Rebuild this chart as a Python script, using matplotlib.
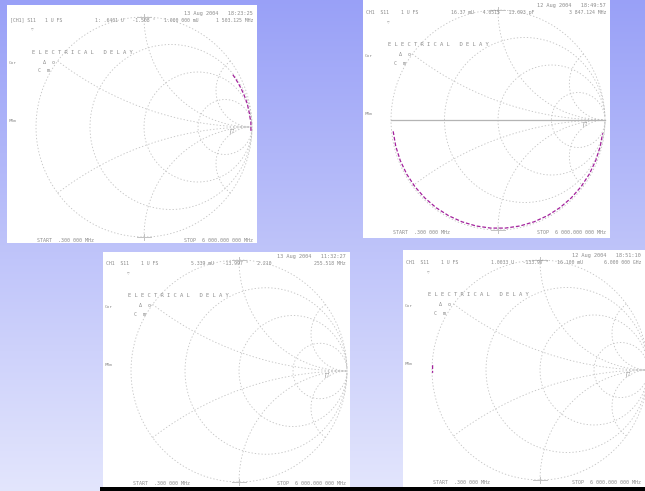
import numpy as np
import matplotlib
matplotlib.use("Agg")
import matplotlib.pyplot as plt
from matplotlib.patches import Rectangle

# smith chart graticule values
r_circles = [1/3, 1, 3]
x_arcs = [1/3, 1, 3, -1/3, -1, -3]

# traces: angle (deg) and |gamma|
p1_ang = [30, 27, 24, 21, 18, 15, 12, 9, 7, 5, 3, 1, 0, -1, -2, -3]
p1_mag = [0.95, 0.955, 0.96, 0.965, 0.97, 0.975, 0.98, 0.98, 0.985, 0.985,
          0.99, 0.99, 0.99, 0.99, 0.99, 0.985]
p2_ang = [-174, -166, -158, -150, -142, -134, -126, -118, -110, -102, -94,
          -86, -78, -70, -62, -54, -46, -38, -30, -22, -14, -7]
p2_mag = [0.985, 0.985, 0.985, 0.985, 0.985, 0.985, 0.985, 0.985, 0.985, 0.985, 0.985,
          0.985, 0.985, 0.985, 0.985, 0.985, 0.985, 0.985, 0.985, 0.985, 0.985, 0.985]
p4_ang = [177.5, 178.5, 179.5, 180.5, 181.5]
p4_mag = [0.995, 0.995, 0.995, 0.995, 0.995]

dates = ["13 Aug 2004   18:23:25", "12 Aug 2004   18:49:57",
         "13 Aug 2004   11:32:27", "12 Aug 2004   18:51:10"]
channels = ["[CH1] S11", "CH1  S11", "CH1  S11", "CH1  S11"]
markers = ["1: .6401 U   -1.508 \u00b0   1.000 000 mU",
           "16.37 mU   4.0515   13.093 pF",
           "5.339 mU   -13.997 \u00b0   2.210",
           "1.0033 U   -133.97 \u00b0   16.100 mU"]
mk_freq = ["1 503.125 MHz", "3 847.124 MHz", "255.518 MHz", "6.000 000 GHz"]
starts = ["START  .300 000 MHz"] * 4
stops = ["STOP  6 000.000 000 MHz"] * 4

# panel rects in pixels (left, top, right, bottom), circle centre and radii
panels = [
    dict(rect=(7, 5, 257, 243), c=(144, 127), R=(108, 110), trace=(p1_ang, p1_mag), axis=False),
    dict(rect=(363, -3, 610, 238), c=(498, 120), R=(107, 110), trace=(p2_ang, p2_mag), axis=True),
    dict(rect=(103, 252, 350, 487), c=(239, 371), R=(108, 111), trace=None, axis=False),
    dict(rect=(403, 250, 645, 487), c=(540, 370), R=(108, 110), trace=(p4_ang, p4_mag), axis=False),
]

FW, FH = 645, 491
fig = plt.figure(figsize=(6.45, 4.91), dpi=100)

# gradient background
bg = fig.add_axes([0, 0, 1, 1])
top = np.array([0.60, 0.63, 0.97])
bot = np.array([0.89, 0.90, 0.99])
t = np.linspace(0, 1, 256)[:, None, None]
grad = top * (1 - t) + bot * t
grad = np.repeat(grad, 2, axis=1)
bg.imshow(grad, aspect="auto", extent=[0, 1, 0, 1])
bg.set_xlim(0, 1)
bg.set_ylim(0, 1)
bg.axis("off")

grid_col = "#c2c2c2"
grid_ls = (0, (1.6, 2.4))
txt_col = "#8c8c8c"
trace_col = "#a3229c"
mono = "DejaVu Sans Mono"


def to_px(g, c, R):
    return c[0] + g.real * R[0], c[1] - g.imag * R[1]


for i, p in enumerate(panels):
    l, tp, r, b = p["rect"]
    ax = fig.add_axes([l / FW, 1 - b / FH, (r - l) / FW, (b - tp) / FH])
    ax.set_xlim(l, r)
    ax.set_ylim(b, tp)
    ax.set_facecolor("white")
    ax.set_xticks([])
    ax.set_yticks([])
    for s in ax.spines.values():
        s.set_visible(False)
    c, R = p["c"], p["R"]

    # outer circle
    th = np.linspace(0, 2 * np.pi, 400)
    gx, gy = to_px(np.exp(1j * th), c, R)
    ax.plot(gx, gy, color=grid_col, lw=0.6, ls=grid_ls)
    # resistance circles
    xs = np.concatenate([-np.logspace(2, -3, 200), np.logspace(-3, 2, 200)])
    for rv in r_circles:
        z = rv + 1j * xs
        gx, gy = to_px((z - 1) / (z + 1), c, R)
        ax.plot(gx, gy, color=grid_col, lw=0.6, ls=grid_ls)
    # reactance arcs
    rs = np.concatenate([[0], np.logspace(-3, 2.5, 300)])
    for xv in x_arcs:
        z = rs + 1j * xv
        gx, gy = to_px((z - 1) / (z + 1), c, R)
        ax.plot(gx, gy, color=grid_col, lw=0.6, ls=grid_ls)

    # reference ticks top and bottom
    for sgn in (1, -1):
        y0 = c[1] - sgn * R[1]
        ax.plot([c[0] - 7, c[0] + 7], [y0, y0], color=grid_col, lw=0.7)
        ax.plot([c[0], c[0]], [y0 - 3, y0 + 3], color=grid_col, lw=0.7)

    if p["axis"]:
        ax.plot([c[0] - R[0], c[0] + R[0]], [c[1], c[1]], color="#b4b4b4", lw=0.9)

    # marker symbol near the right edge
    ax.text(c[0] + 0.82 * R[0], c[1] + 0.02 * R[1], "\u25bd1", fontsize=3.5,
            color=txt_col, ha="center", va="center", rotation=90)

    if p["trace"] is not None:
        ang, mag = p["trace"]
        g = np.array(mag) * np.exp(1j * np.radians(ang))
        gx, gy = to_px(g, c, R)
        ax.plot(gx, gy, color=trace_col, lw=0.9, ls=(0, (3, 1.5)))

    # annotation text
    ox, oy = l, p["c"][1] - 122
    ax.text(r - 4, oy + 8, dates[i], fontsize=3.8, color=txt_col, ha="right",
            va="center", family=mono)
    ax.text(ox + 3, oy + 15, channels[i], fontsize=3.5, color=txt_col,
            va="center", family=mono)
    ax.text(ox + 38, oy + 15, "1 U FS", fontsize=3.5, color=txt_col,
            va="center", family=mono)
    ax.text(ox + 88, oy + 15, markers[i], fontsize=3.5, color=txt_col,
            va="center", family=mono)
    ax.text(r - 4, oy + 15, mk_freq[i], fontsize=3.5, color=txt_col,
            ha="right", va="center", family=mono)
    ax.text(ox + 24, oy + 25, "\u25bd", fontsize=3.2, color=txt_col,
            va="center", family=mono)
    ax.text(ox + 25, oy + 47, "E L E C T R I C A L   D E L A Y", fontsize=4,
            color=txt_col, va="center", family=mono)
    ax.text(ox + 36, oy + 57, "\u0394  o", fontsize=3.6, color=txt_col,
            va="center", family=mono)
    ax.text(ox + 31, oy + 66, "C  m", fontsize=3.6, color=txt_col,
            va="center", family=mono)
    ax.text(ox + 2, oy + 58, "Cor", fontsize=3.2, color=txt_col,
            va="center", family=mono)
    ax.text(ox + 2, oy + 116, "PRm", fontsize=3.2, color=txt_col,
            va="center", family=mono)
    ax.text(ox + 30, c[1] + 113, starts[i], fontsize=3.6, color=txt_col,
            va="center", family=mono)
    ax.text(r - 4, c[1] + 113, stops[i], fontsize=3.6, color=txt_col,
            ha="right", va="center", family=mono)

# black strip along the bottom edge
fig.patches.append(Rectangle((100 / FW, 0), 545 / FW, 4 / FH, transform=fig.transFigure,
                             facecolor="black", edgecolor="none", zorder=10))

fig.savefig("out.png", dpi=100)
plt.close(fig)
